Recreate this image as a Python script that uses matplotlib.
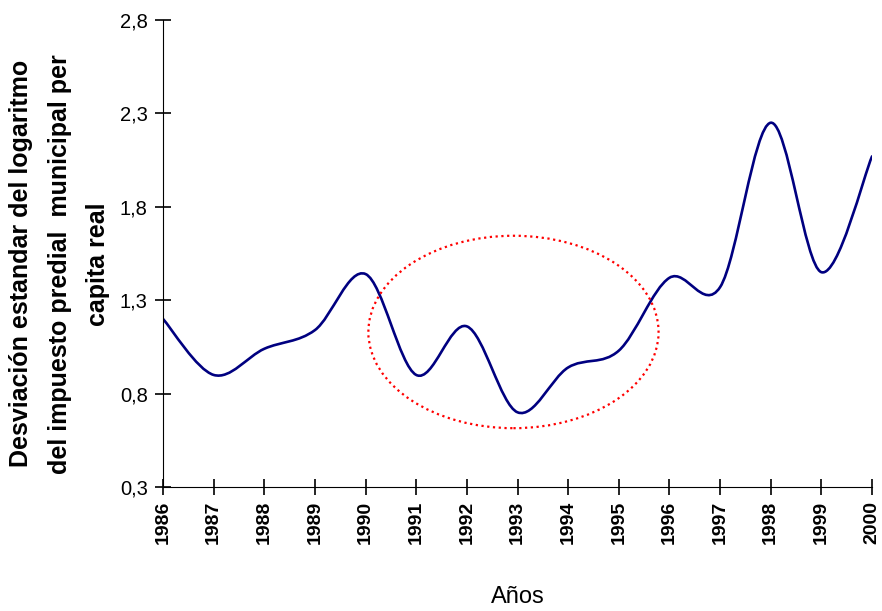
import matplotlib
matplotlib.use("Agg")
import matplotlib.pyplot as plt
from matplotlib.path import Path
from matplotlib.patches import PathPatch, Ellipse
from matplotlib.ticker import FuncFormatter

years = [1986, 1987, 1988, 1989, 1990, 1991, 1992, 1993,
         1994, 1995, 1996, 1997, 1998, 1999, 2000]
desv = [1.20, 0.90, 1.04, 1.14, 1.44, 0.90, 1.16, 0.70,
        0.94, 1.03, 1.42, 1.37, 2.25, 1.45, 2.07]
y_ticks = [0.3, 0.8, 1.3, 1.8, 2.3, 2.8]

# highlighted zone (red dotted ellipse), data units
circle_center = (1992.92, 1.13)
circle_w = 5.73
circle_h = 1.03

plt.rcParams['font.family'] = ['Liberation Sans', 'DejaVu Sans']

fig = plt.figure(figsize=(8.82, 6.11), dpi=100)
ax = fig.add_axes([0.1848, 0.2029, 0.8039, 0.7644])

# smooth line like excel (catmull-rom -> bezier)
verts = [(years[0], desv[0])]
codes = [Path.MOVETO]
n = len(years)
for i in range(n - 1):
    x0, y0 = years[max(i - 1, 0)], desv[max(i - 1, 0)]
    x1, y1 = years[i], desv[i]
    x2, y2 = years[i + 1], desv[i + 1]
    x3, y3 = years[min(i + 2, n - 1)], desv[min(i + 2, n - 1)]
    c1 = (x1 + (x2 - x0) / 6.0, y1 + (y2 - y0) / 6.0)
    c2 = (x2 - (x3 - x1) / 6.0, y2 - (y3 - y1) / 6.0)
    verts += [c1, c2, (x2, y2)]
    codes += [Path.CURVE4] * 3
ax.add_patch(PathPatch(Path(verts, codes), fill=False, edgecolor="#000080",
                       lw=1.9, capstyle="round", joinstyle="round"))

ax.add_patch(Ellipse(circle_center, circle_w, circle_h, fill=False,
                     edgecolor="red", lw=1.6, linestyle=(0, (1, 1.6))))

ax.set_xlim(1986, 2000)
ax.set_ylim(0.3, 2.8)
ax.set_xticks(years)
ax.set_xticklabels([str(y) for y in years], rotation=90, fontsize=14,
                   fontweight="bold")
ax.set_yticks(y_ticks)
ax.yaxis.set_major_formatter(FuncFormatter(lambda v, p: f"{v:.1f}".replace(".", ",")))
for label in ax.get_yticklabels():
    label.set_fontsize(14.5)

ax.spines["top"].set_visible(False)
ax.spines["right"].set_visible(False)
ax.tick_params(direction="inout", length=12, width=1.2, color="black")
ax.tick_params(axis="x", pad=4)
ax.tick_params(axis="y", pad=5)

ax.set_xlabel("Años", fontsize=17, labelpad=30)
ax.set_ylabel("Desviación estandar del logaritmo\ndel impuesto predial  municipal per\ncapita real",
              fontsize=18, fontweight="bold", linespacing=1.75)
ax.yaxis.set_label_coords(-0.075, 0.478)

fig.savefig("out.png", dpi=100)
